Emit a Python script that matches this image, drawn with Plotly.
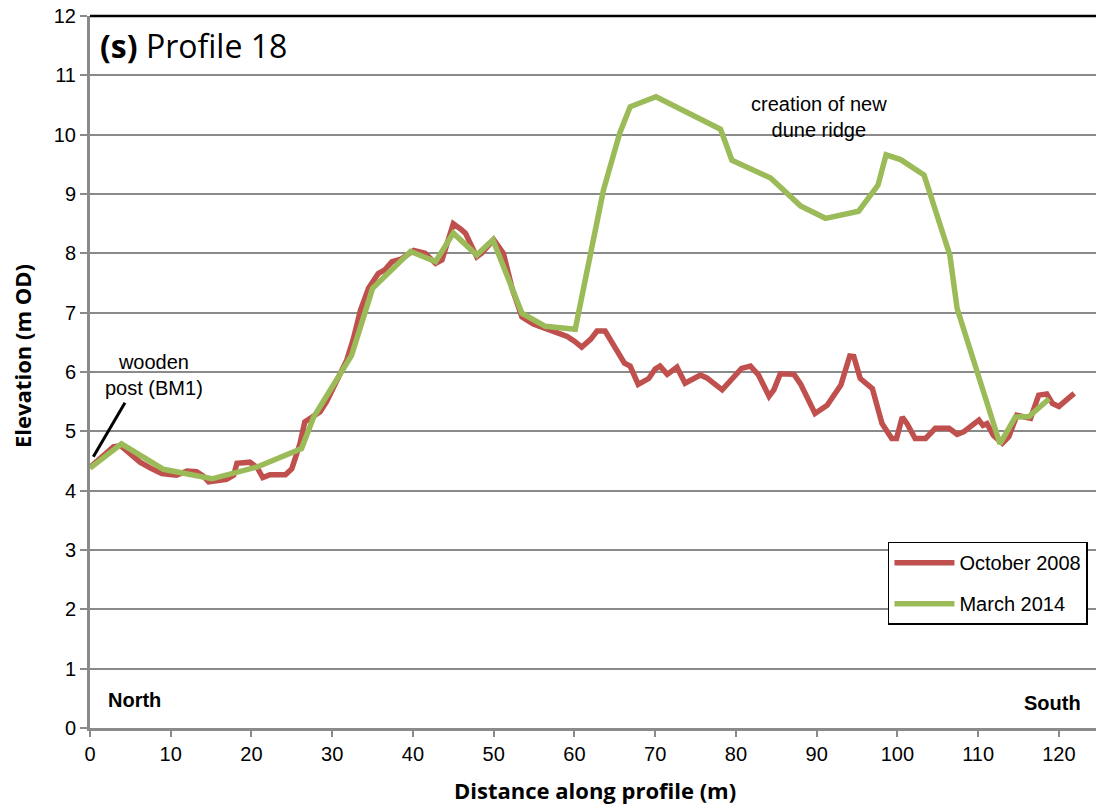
import plotly.graph_objects as go

# ---- data ----
oct2008_x = [0, 1.5, 2.9, 3.8, 5.0, 6.2, 7.5, 8.9, 10.7, 12.0,
             13.2, 14.0, 14.7, 16.0, 16.9, 17.8, 18.2, 19.0, 19.8, 20.7,
             21.4, 22.3, 24.2, 25.0, 26.0, 26.6, 27.5, 28.5, 29.3, 30.6,
             31.8, 32.6, 33.5, 34.5, 35.7, 36.5, 37.4, 38.5, 40.1, 41.5,
             42.8, 43.6, 44.3, 45.0, 46.0, 46.5, 47.9, 48.5, 50.0, 51.2,
             52.3, 53.5, 54.9, 56.6, 58.2, 59.1, 60.0, 60.9, 62.0, 62.8,
             63.8, 64.6, 65.5, 66.2, 66.9, 67.9, 69.2, 70.0, 70.6, 71.5,
             72.7, 73.7, 75.6, 76.4, 78.3, 79.5, 80.7, 81.8, 82.8, 84.1,
             84.7, 85.5, 87.2, 88.0, 88.8, 89.8, 91.3, 93.0, 94.1, 94.6,
             95.4, 96.9, 98.1, 99.3, 99.9, 100.6, 101.2, 102.2, 103.5, 104.7,
             106.4, 107.4, 108.2, 110.1, 110.6, 111.1, 111.9, 113.0, 113.8, 114.8,
             116.5, 117.5, 118.5, 119.2, 120.0, 121.1, 121.9]
oct2008_y = [4.39, 4.56, 4.74, 4.76, 4.62, 4.48, 4.38, 4.29, 4.26, 4.33,
             4.32, 4.25, 4.15, 4.18, 4.19, 4.26, 4.46, 4.47, 4.48, 4.39,
             4.22, 4.27, 4.27, 4.37, 4.79, 5.16, 5.25, 5.33, 5.50, 5.89,
             6.20, 6.55, 7.04, 7.41, 7.66, 7.72, 7.86, 7.90, 8.05, 8.00,
             7.83, 7.89, 8.20, 8.50, 8.40, 8.34, 7.94, 8.00, 8.23, 8.00,
             7.40, 6.93, 6.81, 6.72, 6.66, 6.60, 6.52, 6.42, 6.55, 6.69,
             6.69, 6.50, 6.28, 6.15, 6.10, 5.79, 5.89, 6.05, 6.10, 5.96,
             6.08, 5.81, 5.95, 5.90, 5.70, 5.88, 6.06, 6.10, 5.95, 5.59,
             5.70, 5.97, 5.96, 5.80, 5.58, 5.30, 5.44, 5.78, 6.27, 6.26,
             5.89, 5.72, 5.13, 4.88, 4.88, 5.24, 5.13, 4.88, 4.88, 5.05,
             5.05, 4.95, 4.99, 5.19, 5.10, 5.13, 4.93, 4.80, 4.91, 5.27,
             5.22, 5.61, 5.63, 5.47, 5.42, 5.55, 5.64]

mar2014_x = [0, 3.9, 9.1, 15.1, 20.7, 26.2, 27.7, 32.4, 35.0, 39.7,
             42.8, 45.0, 47.9, 49.9, 53.5, 56.4, 60.1, 63.6, 65.6, 66.9,
             70.1, 78.1, 79.5, 84.3, 88.0, 91.1, 95.2, 97.6, 98.6, 100.4,
             103.3, 106.5, 107.4, 112.7, 114.6, 116.3, 118.8]
mar2014_y = [4.38, 4.79, 4.36, 4.20, 4.40, 4.71, 5.24, 6.28, 7.41, 8.03,
             7.86, 8.34, 7.97, 8.23, 6.99, 6.77, 6.72, 9.07, 10.02, 10.47,
             10.64, 10.09, 9.57, 9.27, 8.80, 8.59, 8.71, 9.15, 9.66, 9.58,
             9.32, 7.97, 7.07, 4.79, 5.24, 5.25, 5.55]

series_names = ["October 2008", "March 2014"]
x_ticks = [0, 10, 20, 30, 40, 50, 60, 70, 80, 90, 100, 110, 120]
y_ticks = list(range(0, 13))

RED = "#C0504D"
GREEN = "#9BBB59"
GRID = "#8A8A8A"
TXT = "Liberation Sans, Arial, sans-serif"
CAL = "Open Sans, sans-serif"

fig = go.Figure()
fig.add_trace(go.Scatter(x=oct2008_x, y=oct2008_y, mode="lines", name=series_names[0],
                         legendgroup="a",
                         line=dict(color=RED, width=5.5)))
fig.add_trace(go.Scatter(x=mar2014_x, y=mar2014_y, mode="lines", name=series_names[1],
                         legendgroup="b",
                         line=dict(color=GREEN, width=5.5)))

fig.update_layout(
    width=1096, height=810,
    margin=dict(l=90, r=0, t=16, b=82),
    plot_bgcolor="white", paper_bgcolor="white",
    font=dict(family=TXT, size=20, color="black"),
    xaxis=dict(range=[0, 124.6], tickvals=x_ticks, showgrid=False, zeroline=False,
               showline=True, linecolor=GRID, linewidth=3,
               ticks="outside", ticklen=6, tickwidth=2, tickcolor=GRID,
               tickfont=dict(family=TXT, size=20, color="black")),
    yaxis=dict(range=[0, 12], tickvals=y_ticks, showgrid=True, gridcolor=GRID, gridwidth=2,
               zeroline=False, showline=True, linecolor=GRID, linewidth=3,
               ticks="outside", ticklen=7, tickwidth=2, tickcolor=GRID,
               tickfont=dict(family=TXT, size=20, color="black")),
    legend=dict(x=0.992, y=0.2617, xanchor="right", yanchor="top",
                bgcolor="white", bordercolor="black", borderwidth=1.5,
                font=dict(family=TXT, size=20, color="black"),
                traceorder="grouped", tracegroupgap=12, itemwidth=60),
    showlegend=True,
)

# top border of plot area
fig.add_shape(type="line", xref="paper", yref="paper", x0=0, x1=1, y0=1, y1=1,
              line=dict(color="black", width=2.5), layer="above")
# leader line for the wooden post
fig.add_shape(type="line", xref="x", yref="y", x0=0.41, y0=4.57, x1=4.33, y1=5.48,
              line=dict(color="black", width=3))

ann = [
    dict(text="<b>(s)</b> Profile 18", xref="paper", yref="paper", x=0.008, y=0.958,
         xanchor="left", yanchor="middle", showarrow=False,
         font=dict(family=CAL, size=32, color="black")),
    dict(text="wooden<br>post (BM1)", xref="x", yref="y", x=7.93, y=5.95,
         xanchor="center", yanchor="middle", showarrow=False,
         font=dict(family=TXT, size=20, color="black")),
    dict(text="creation of new<br>dune ridge", xref="x", yref="y", x=90.3, y=10.29,
         xanchor="center", yanchor="middle", showarrow=False,
         font=dict(family=TXT, size=20, color="black")),
    dict(text="<b>North</b>", xref="paper", yref="paper", x=0.0159, y=0.039,
         xanchor="left", yanchor="middle", showarrow=False,
         font=dict(family=TXT, size=20, color="black")),
    dict(text="<b>South</b>", xref="paper", yref="paper", x=0.987, y=0.035,
         xanchor="right", yanchor="middle", showarrow=False,
         font=dict(family=TXT, size=20, color="black")),
    dict(text="<b>Elevation (m OD)</b>", xref="paper", yref="paper", x=-0.0676, y=0.5225,
         xanchor="center", yanchor="middle", textangle=-90, showarrow=False,
         font=dict(family=CAL, size=22, color="black")),
    dict(text="<b>Distance along profile (m)</b>", xref="paper", yref="paper", x=0.502, y=-0.087,
         xanchor="center", yanchor="middle", showarrow=False,
         font=dict(family=CAL, size=22, color="black")),
]
fig.update_layout(annotations=ann)

fig.write_html("out.html", config={"displayModeBar": False},
               post_script="document.body.style.margin='0';document.body.style.overflow='hidden';")
